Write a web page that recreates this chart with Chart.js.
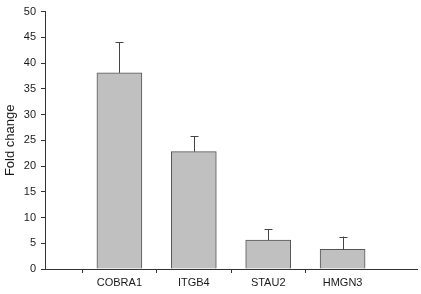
<!DOCTYPE html>
<html>
<head>
<meta charset="utf-8">
<script src="https://cdn.jsdelivr.net/npm/chart.js@4"></script>
<style>
  html, body { margin: 0; padding: 0; background: #fff; }
  #wrap { width: 421px; height: 294px; }
</style>
</head>
<body>
<div id="wrap"><canvas id="barChart" width="421" height="294"></canvas></div>
<script>
// data
var genes = ["COBRA1", "ITGB4", "STAU2", "HMGN3"];
var foldChange = [38.1, 22.8, 5.6, 3.8];
var errUp = [5.9, 3.0, 2.1, 2.5];
var yTicks = [0, 5, 10, 15, 20, 25, 30, 35, 40, 45, 50];

// pad with empty slots on both ends so bars sit like the original
var labels = [""].concat(genes).concat([""]);
var values = [null].concat(foldChange).concat([null]);
var errs = [null].concat(errUp).concat([null]);

var errorBars = {
	id: "errorBars",
	afterDatasetsDraw: function(chart){
		var ctx = chart.ctx;
		var x = chart.scales.x, y = chart.scales.y;
		ctx.save();
		ctx.strokeStyle = "#444";
		ctx.lineWidth = 1;
		for(var i = 0; i < values.length; i++){
			if(values[i] == null) continue;
			var px = Math.round(x.getPixelForValue(i)) + 0.5;
			var top = y.getPixelForValue(values[i]);
			var hi = y.getPixelForValue(values[i] + errs[i]);
			ctx.beginPath();
			ctx.moveTo(px, top);
			ctx.lineTo(px, hi);
			ctx.moveTo(px - 4, Math.round(hi) + 0.5);
			ctx.lineTo(px + 4, Math.round(hi) + 0.5);
			ctx.stroke();
		}
		ctx.restore();
	}
};

Chart.defaults.font.family = "'Liberation Sans', Arial, sans-serif";
Chart.defaults.color = "#1a1a1a";

const CHART = document.getElementById("barChart");
let barChart = new Chart(CHART, {
	type: 'bar',
	data: {
		labels: labels,
		datasets: [{
			data: values,
			backgroundColor: "#c0c0c0",
			borderColor: "#555",
			borderWidth: 1,
			barThickness: 45
		}]
	},
	options: {
		responsive: false,
		animation: false,
		layout: { padding: { top: 9, right: 4, left: 0, bottom: 0 } },
		plugins: { legend: { display: false }, tooltip: { enabled: false } },
		scales: {
			x: {
				offset: false,
				grid: {
					drawOnChartArea: false,
					tickLength: 4,
					tickColor: function(c){ return (c.index === 0 || c.index === labels.length - 1) ? "rgba(0,0,0,0)" : "#333"; }
				},
				border: { display: true, color: "#333" },
				ticks: { font: { size: 11 }, padding: 3, maxRotation: 0, autoSkip: false },
				afterFit: function(s){ s.height = 25; }
			},
			y: {
				min: 0,
				max: 50,
				afterBuildTicks: function(s){ s.ticks = yTicks.map(function(v){ return { value: v }; }); },
				grid: { drawOnChartArea: false, tickLength: 4, tickColor: "#333" },
				border: { display: true, color: "#333" },
				ticks: { font: { size: 11 }, padding: 5 },
				title: { display: true, text: "Fold change", font: { size: 13 }, padding: { top: 3, bottom: 0 } },
				afterFit: function(s){ s.width = 45; }
			}
		}
	},
	plugins: [errorBars]
});
</script>
</body>
</html>
